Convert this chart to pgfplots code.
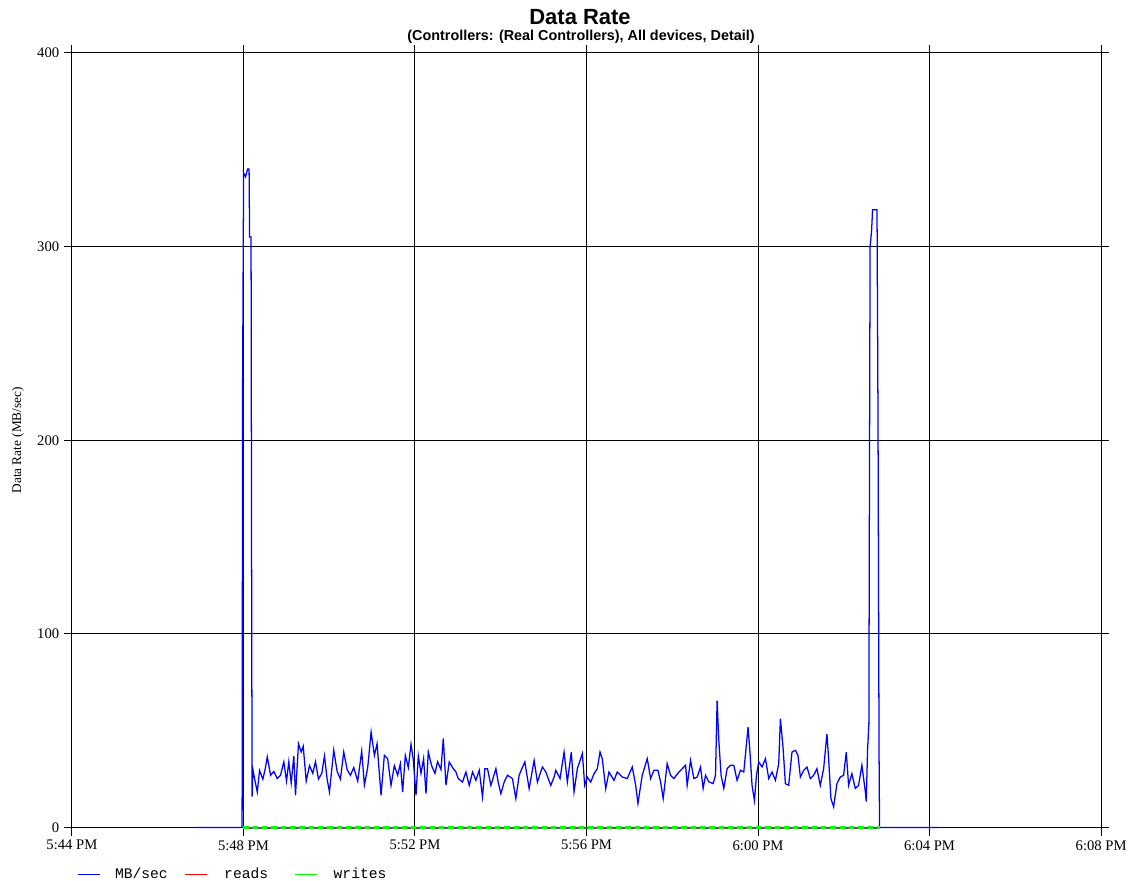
\documentclass[border=0pt]{standalone}
\usepackage{fontspec}
\setmainfont{Liberation Serif}
\newfontfamily\arial{Liberation Sans}
\newfontfamily\courier{Liberation Mono}
\usepackage{pgfplots}
\pgfplotsset{compat=1.18}
\definecolor{mbblue}{RGB}{0,0,255}
\definecolor{rdred}{RGB}{255,0,0}
\definecolor{wrgreen}{RGB}{0,255,0}
\definecolor{zeroline}{RGB}{90,90,90}

\begin{document}
\begin{tikzpicture}
\begin{axis}[
  scale only axis, width=773.25pt, height=582pt,
  xmin=0, xmax=24, ymin=0, ymax=400,
  xtick={0,4,...,24},
  xticklabels={5:44 PM,5:48 PM,5:52 PM,5:56 PM,6:00 PM,6:04 PM,6:08 PM},
  ytick={0,100,...,400},
  /pgf/number format/assume math mode=true,
  grid=major, major grid style={black, line width=0.75pt},
  tick align=outside, major tick length=6pt,
  tick style={black, line width=0.75pt},
  axis line style={black, line width=0.75pt},
  tick label style={font=\fontsize{11}{13}\selectfont},
  ylabel={Data Rate (MB/sec)},
  ylabel style={font=\fontsize{10}{12}\selectfont, at={(axis description cs:-0.0524,0.5)}, anchor=center},
  clip=false,
]
% MB/sec
\addplot[mbblue, line width=0.95pt] coordinates {
(2.863,0)(3.969,0)(3.981,230)(4.004,338)(4.050,336)(4.097,340)(4.132,340)(4.144,305)(4.178,305)(4.190,144)(4.202,16)(4.220,30)
(4.276,23.5)(4.323,18.4)(4.376,29.5)(4.453,25)(4.509,30.4)(4.556,36.5)(4.633,27)(4.709,29)(4.788,25.3)(4.865,27)(4.942,33.9)(5.005,24)(5.058,34)(5.114,23)(5.175,37)(5.214,16.7)(5.284,43.3)(5.347,39)(5.394,42)(5.464,24)(5.540,32)(5.617,28)(5.680,34)(5.750,25)(5.827,28)(5.890,37)(5.952,25)(6.006,18.4)(6.106,40)(6.185,29)(6.262,25)(6.339,39)(6.418,30)(6.495,27)(6.572,31)(6.665,24)(6.758,39.5)(6.821,22)(6.898,31)(6.977,49.3)(7.054,37.3)(7.116,43.3)(7.209,16.7)(7.286,37.3)(7.363,35.6)(7.442,21.8)(7.519,32)(7.596,27)(7.659,33)(7.712,18.4)(7.775,37.3)(7.845,31)(7.908,43)(7.961,35)(8.024,16.7)(8.078,37)(8.141,28)(8.201,35.6)(8.257,17.5)(8.311,39)(8.387,32)(8.467,28)(8.527,34)(8.606,30)(8.660,46)(8.723,21.8)(8.799,33.9)(8.876,31)(8.955,28.7)(9.009,25.3)
(9.109,23.5)(9.188,28.7)(9.265,21.8)(9.342,28.7)(9.421,24.4)(9.498,29.6)(9.575,15.8)(9.630,30.4)(9.691,30.4)(9.770,21.8)(9.887,30.4)(9.940,23.5)(10.003,17.5)(10.080,23.5)(10.157,27)(10.273,25.3)(10.352,15)(10.429,27)(10.492,30.4)(10.562,33.9)(10.662,20.1)(10.778,34.7)(10.855,23.5)(10.971,31.3)(11.051,28.7)(11.167,21.8)(11.244,26.1)(11.283,29.6)(11.383,25.3)(11.477,39)(11.553,23.5)(11.646,39)(11.709,18.4)(11.786,30.4)(11.903,38.2)(11.958,21.8)(12.019,26.1)(12.098,23.5)(12.175,27.8)(12.252,30.4)(12.315,39)(12.368,35.6)(12.447,20.1)(12.524,28.7)(12.640,24.4)(12.717,28.7)(12.834,26.1)(12.950,25.3)(13.067,31.3)(13.146,21.8)(13.199,12.4)(13.299,27)(13.416,35.6)(13.495,25.3)(13.572,29.6)(13.665,29.6)(13.728,23.5)(13.788,15)(13.881,33)
(13.960,27)(14.037,25.3)(14.154,28.7)(14.231,30.4)(14.310,32.2)(14.347,21.8)(14.426,34.7)(14.503,25.3)(14.580,26.1)(14.659,31.3)(14.719,20.2)(14.775,27)(14.852,23.6)(14.952,22.7)(15.008,27)(15.045,65.6)(15.085,45)(15.138,27)(15.201,20.2)(15.278,30.4)(15.357,32.2)(15.434,32.2)(15.511,24.4)(15.590,29.6)(15.667,28.7)(15.767,51.9)(15.806,40.7)(15.860,21.8)(15.916,14)(15.963,27)(16.016,33.9)(16.093,31.3)(16.172,35.6)(16.249,25.3)(16.326,28.7)(16.405,24.4)(16.482,33)(16.521,56.2)(16.582,41.6)(16.637,22.7)(16.714,21.8)(16.791,39)(16.870,39.9)(16.931,37.3)(16.987,26.1)(17.064,29.6)(17.140,31.3)(17.219,25.3)(17.296,27)(17.373,30.4)(17.452,21.8)(17.529,30.4)(17.606,48.4)(17.645,35.6)(17.699,15)(17.762,10.7)(17.839,22.7)(17.918,26.1)(17.995,27)(18.057,39)(18.111,21.8)(18.188,27.8)(18.267,20.2)(18.344,21.8)(18.421,32.2)(18.500,18.8)(18.523,13.4)(18.553,40)(18.584,53.6)
(18.595,155)(18.612,300)(18.647,308)(18.670,319)(18.774,319)(18.798,205)(18.821,40)(18.833,0)(20.206,0)
};
% reads
\addplot[rdred, line width=1.6pt] coordinates {(4.0,0)(18.833,0)};
\addplot[zeroline, line width=1.6pt] coordinates {(4.0,0)(18.833,0)};
% writes
\addplot[wrgreen, line width=1.9pt, dash pattern=on 4pt off 3pt] coordinates {(4.0,0)(18.833,0)};
% legend
\node[anchor=west, inner sep=0pt, font=\courier\fontsize{11}{13}\selectfont] at (axis description cs:0.0058,-0.0593)
  {\textcolor{mbblue}{\rule[2.7pt]{16.5pt}{0.8pt}}\hspace{11.25pt}MB/sec};
\node[anchor=west, inner sep=0pt, font=\courier\fontsize{11}{13}\selectfont] at (axis description cs:0.1096,-0.0593)
  {\textcolor{rdred}{\rule[2.7pt]{16.5pt}{0.8pt}}\hspace{13pt}reads};
\node[anchor=west, inner sep=0pt, font=\courier\fontsize{11}{13}\selectfont] at (axis description cs:0.2163,-0.0593)
  {\textcolor{wrgreen}{\rule[2.7pt]{16.5pt}{0.8pt}}\hspace{12.75pt}writes};
\node[font=\arial\bfseries\fontsize{16.5}{18}\selectfont] at (axis description cs:0.4937,1.0464) {Data Rate};
\node[font=\arial\bfseries\fontsize{10.8}{12}\selectfont] at (axis description cs:0.4947,1.0206) {(Controllers: (Real Controllers), All devices, Detail)};
\path (rel axis cs:-0.06984,-0.0683) rectangle (rel axis cs:1.02716,1.0683);
\end{axis}
\end{tikzpicture}
\end{document}
